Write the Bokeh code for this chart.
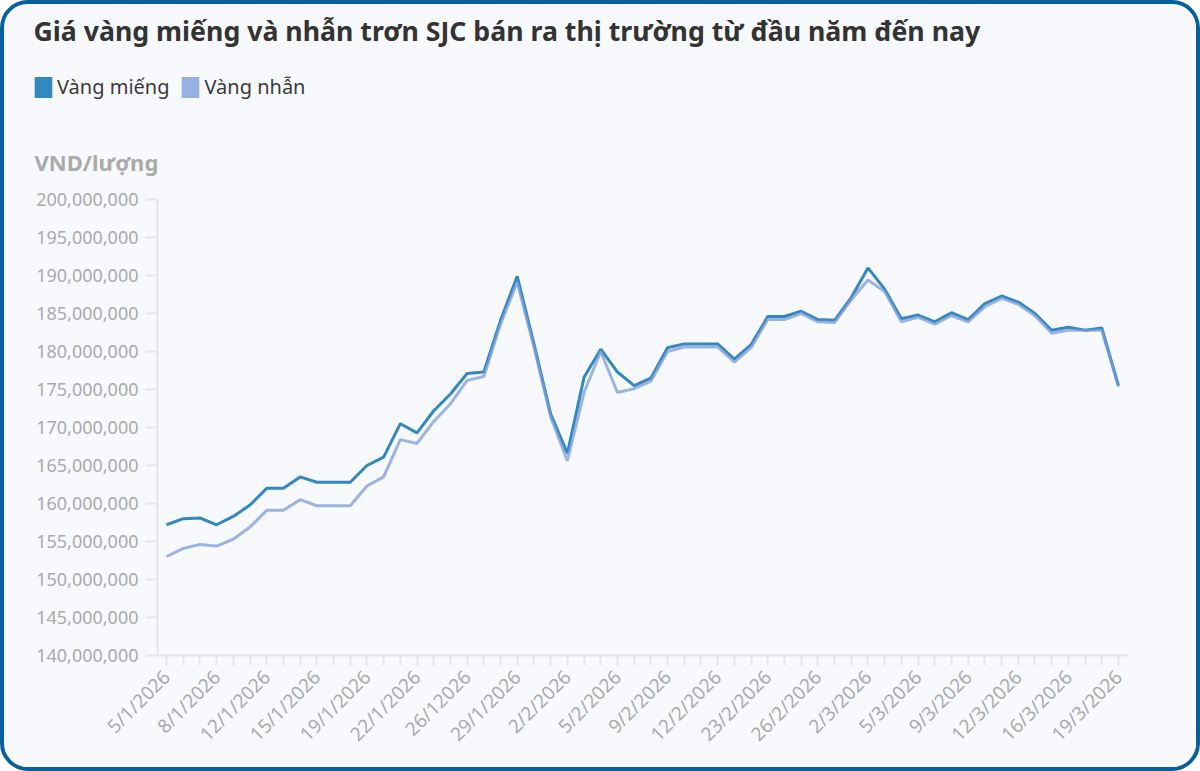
import math
from bokeh.plotting import figure
from bokeh.layouts import column
from bokeh.models import (ColumnDataSource, Range1d, FixedTicker, NumeralTickFormatter,
                          Label, Legend, LegendItem)
from bokeh.embed import file_html
from bokeh.resources import INLINE

# ---- data (VND million / lượng) ----
mieng = [157.2, 158.0, 158.1, 157.2, 158.3, 159.8, 162.0, 162.0, 163.5, 162.8,
         162.8, 162.8, 165.0, 166.1, 170.5, 169.3, 172.2, 174.4, 177.1, 177.3,
         184.1, 189.9, 181.0, 171.8, 166.6, 176.6, 180.3, 177.3, 175.5, 176.5,
         180.5, 181.0, 181.0, 181.0, 179.0, 180.9, 184.6, 184.6, 185.3, 184.2,
         184.1, 187.1, 191.0, 188.2, 184.3, 184.8, 183.9, 185.1, 184.2, 186.3,
         187.3, 186.5, 185.0, 182.8, 183.2, 182.8, 183.1, 175.5]
nhan = [153.0, 154.1, 154.6, 154.4, 155.3, 156.9, 159.1, 159.1, 160.5, 159.7,
        159.7, 159.7, 162.3, 163.5, 168.4, 167.9, 170.8, 173.1, 176.2, 176.7,
        183.6, 189.1, 180.6, 171.4, 165.6, 174.6, 180.0, 174.6, 175.1, 176.1,
        180.0, 180.6, 180.6, 180.6, 178.6, 180.5, 184.2, 184.2, 185.0, 183.9,
        183.8, 186.8, 189.4, 187.9, 183.9, 184.5, 183.6, 184.7, 183.9, 185.9,
        187.0, 186.2, 184.7, 182.4, 182.8, 182.8, 182.8, 175.4]
tick_labels = ["5/1/2026", "8/1/2026", "12/1/2026", "15/1/2026", "19/1/2026",
               "22/1/2026", "26/12026", "29/1/2026", "2/2/2026", "5/2/2026",
               "9/2/2026", "12/2/2026", "23/2/2026", "26/2/2026", "2/3/2026",
               "5/3/2026", "9/3/2026", "12/3/2026", "16/3/2026", "19/3/2026"]
label_step = 3
y_ticks = list(range(140_000_000, 200_000_001, 5_000_000))

title_text = "Giá vàng miếng và nhẫn trơn SJC bán ra thị trường từ đầu năm đến nay"
unit_text = "VND/lượng"
series_names = ["Vàng miếng", "Vàng nhẫn"]
colors = ["#3388c0", "#7c9cdb"]
swatch_colors = ["#3388c0", "#98b0e2"]

n = len(mieng)
idx = list(range(n))
src = ColumnDataSource(dict(x=idx,
                            mieng=[v * 1e6 for v in mieng],
                            nhan=[v * 1e6 for v in nhan]))

BG = "#f8f9fd"
FONT = "Noto Sans"
W = 1192
TOP_H = 180
MAIN_H = 763 - TOP_H

# ---------- header figure (title, legend, unit) ----------
head = figure(width=W, height=TOP_H, output_backend="svg", toolbar_location=None,
              x_range=Range1d(0, W), y_range=Range1d(TOP_H, 0),
              x_axis_location=None, y_axis_location=None,
              min_border=0, min_border_left=0, min_border_right=0,
              min_border_top=0, min_border_bottom=0)
head.frame_align = False
head.background_fill_color = BG
head.border_fill_color = BG
head.outline_line_color = None
head.xgrid.visible = False
head.ygrid.visible = False

head.add_layout(Label(x=29, y=26, text=title_text, text_font=FONT,
                      text_font_size="26.7px", text_font_style="bold",
                      text_color="#333333", text_baseline="alphabetic"))
head.add_layout(Label(x=30, y=157, text=unit_text, text_font=FONT,
                      text_font_size="22px", text_font_style="bold",
                      text_color="#aaaaaa", text_baseline="alphabetic"))

nan = float("nan")
d1 = head.quad(left=[nan], right=[nan], top=[nan], bottom=[nan],
               fill_color=swatch_colors[0], line_color=None)
d2 = head.quad(left=[nan], right=[nan], top=[nan], bottom=[nan],
               fill_color=swatch_colors[1], line_color=None)
legend = Legend(items=[LegendItem(label=series_names[0], renderers=[d1]),
                       LegendItem(label=series_names[1], renderers=[d2])],
                orientation="horizontal", location=(28, 84),
                glyph_width=22, glyph_height=26, label_standoff=3, spacing=10,
                padding=0, margin=0, background_fill_alpha=0, border_line_alpha=0,
                label_text_font=FONT, label_text_font_size="20px",
                label_text_color="#3a3a3a", label_height=26)
head.add_layout(legend, "center")

# ---------- main chart ----------
p = figure(width=W, height=MAIN_H, output_backend="svg", toolbar_location=None,
           x_range=Range1d(-0.54, n - 1 + 0.6), y_range=Range1d(140e6, 200e6),
           min_border_left=153, min_border_right=68, min_border_top=15,
           min_border_bottom=112)
p.frame_align = False
p.background_fill_color = BG
p.border_fill_color = BG
p.outline_line_color = None
p.xgrid.visible = False
p.ygrid.visible = False

p.line("x", "mieng", source=src, line_color=colors[0], line_width=3)
p.line("x", "nhan", source=src, line_color=colors[1], line_width=3, line_alpha=0.75)

ya = p.yaxis[0]
ya.ticker = FixedTicker(ticks=y_ticks)
ya.formatter = NumeralTickFormatter(format="0,0")
ya.axis_line_color = "#e6e6e6"
ya.axis_line_width = 2
ya.major_tick_line_color = "#e6e6e6"
ya.major_tick_line_width = 2
ya.major_tick_out = 12
ya.major_tick_in = 0
ya.minor_tick_line_color = None
ya.major_label_text_font = FONT
ya.major_label_text_font_size = "18px"
ya.major_label_text_color = "#aaaaaa"
ya.major_label_standoff = 7

xa = p.xaxis[0]
xa.ticker = FixedTicker(ticks=idx)
overrides = {i: "" for i in idx}
for k, lab in enumerate(tick_labels):
    overrides[k * label_step] = lab
xa.major_label_overrides = overrides
xa.major_label_orientation = math.pi / 4
xa.axis_line_color = "#e6e6e6"
xa.axis_line_width = 2
xa.major_tick_line_color = "#e6e6e6"
xa.major_tick_line_width = 2
xa.major_tick_out = 10
xa.major_tick_in = 0
xa.minor_tick_line_color = None
xa.major_label_text_font = FONT
xa.major_label_text_font_size = "19px"
xa.major_label_text_color = "#aaaaaa"
xa.major_label_standoff = 8

layout = column(head, p, spacing=0,
                styles={"border": "4px solid #05609b", "border-radius": "28px",
                        "overflow": "hidden", "box-sizing": "content-box",
                        "background-color": BG})

open("out.html", "w").write(file_html(layout, INLINE))
